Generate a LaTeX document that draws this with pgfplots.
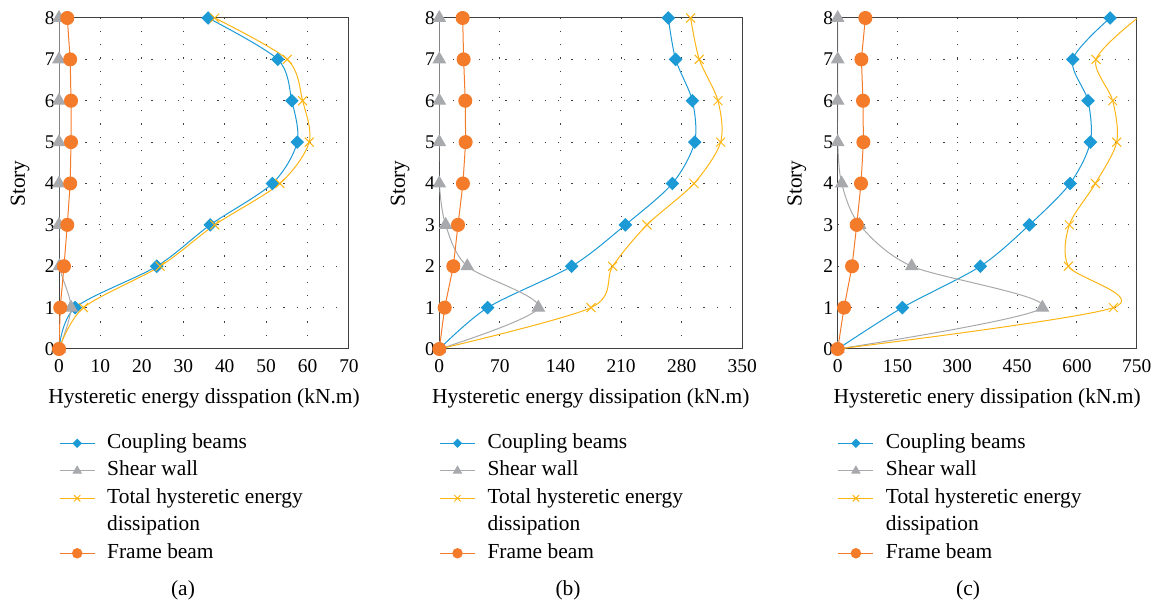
\documentclass[border=0pt]{standalone}
\usepackage{pgfplots}
\pgfplotsset{compat=1.18}
\usepackage{fontspec}
\setmainfont{Liberation Serif}
\definecolor{cblue}{HTML}{1B9AD6}
\definecolor{cgray}{HTML}{A7A9AC}
\definecolor{cyel}{HTML}{FDB515}
\definecolor{corg}{HTML}{F47B2A}
\pgfplotsset{
  hstyle/.style={
    scale only axis, height=331bp, ymin=0, ymax=8, ytick={0,...,8},
    axis line style={draw=black!75, line width=1bp},
    grid=major, grid style={black!75, dash pattern=on 1.2bp off 12bp, line width=1bp},
    major tick length=0pt,
    /pgf/number format/assume math mode=true,
    tick label style={font=\fontsize{19.5}{22}\selectfont},
    xticklabel style={yshift=-7bp},
    yticklabel style={xshift=-1bp},
    label style={font=\fontsize{21.5}{26}\selectfont},
    ylabel={Story},
    ylabel style={at={(axis description cs:#1,0.5)}, anchor=center, rotate=0},
    xlabel style={at={(axis description cs:0.5,-0.148)}, anchor=center},
    legend style={draw=none, fill=none, font=\fontsize{21.5}{26}\selectfont,
      cells={anchor=west}, row sep=3.5bp, column sep=10bp,
      nodes={text height=15bp, text depth=5bp, inner sep=2bp},
      at={(axis description cs:0,-0.248)}, anchor=north west, inner sep=0pt},
    legend cell align=left,
  },
  limg/.style={legend image code/.code={\draw[mark repeat=2,mark phase=2,#1] plot coordinates {(0bp,0bp) (17.5bp,0bp) (35bp,0bp)};}},
  sblue/.style={color=cblue, line width=1bp, smooth, mark=square*, mark size=4.3bp, mark options={rotate=45, fill=cblue, draw=cblue}},
  sgray/.style={color=cgray, line width=1bp, smooth, mark=triangle*, mark size=7bp, mark options={fill=cgray, draw=cgray}},
  syel/.style={color=cyel, line width=1bp, smooth, mark=x, mark size=6.3bp, mark options={draw=cyel, line width=1bp}},
  sorg/.style={color=corg, line width=1bp, mark=*, mark size=6.5bp, mark options={fill=corg, draw=corg}},
}
\newcommand{\mylegend}{%
  \addlegendimage{limg={cblue, line width=1bp, mark=square*, mark size=2.8bp, mark options={rotate=45, fill=cblue, draw=cblue}}}\addlegendentry{Coupling beams}
  \addlegendimage{limg={cgray, line width=1bp, mark=triangle*, mark size=4.5bp, mark options={fill=cgray, draw=cgray}}}\addlegendentry{Shear wall}
  \addlegendimage{limg={cyel, line width=1bp, mark=x, mark size=4.5bp, mark options={draw=cyel}}}\addlegendentry{Total hysteretic energy}
  \addlegendimage{legend image code/.code={}}\addlegendentry{dissipation}
  \addlegendimage{limg={corg, line width=1bp, mark=*, mark size=4.7bp, mark options={fill=corg, draw=corg}}}\addlegendentry{Frame beam}}
\begin{document}
\begin{tikzpicture}
\path[use as bounding box] (0,0) rectangle (1156bp,605bp);
% (a)
\begin{axis}[hstyle=-0.134, at={(59bp,256bp)}, anchor=south west, width=290bp,
  xmin=0, xmax=70, xtick={0,10,...,70},
  xlabel={Hysteretic energy disspation (kN.m)}]
\addplot[sblue, forget plot] coordinates {(0,0)(3.9,1)(23.6,2)(36.5,3)(51.5,4)(57.5,5)(56.2,6)(52.8,7)(36.0,8)};
\addplot[sgray, forget plot] coordinates {(0,0)(2.9,1)(0.1,2)(0,3)(0,4)(0,5)(0,6)(0,7)(0,8)};
\addplot[syel, forget plot] coordinates {(0,0)(5.9,1)(24.4,2)(37.6,3)(53.3,4)(60.4,5)(58.8,6)(55.1,7)(37.6,8)};
\addplot[sorg, forget plot] coordinates {(0,0)(0.3,1)(1.2,2)(2.0,3)(2.7,4)(2.9,5)(2.9,6)(2.7,7)(2.0,8)};
\mylegend
\end{axis}
% (b)
\begin{axis}[hstyle=-0.129, at={(439.3bp,256bp)}, anchor=south west, width=303bp,
  xmin=0, xmax=350, xtick={0,70,...,350},
  xlabel={Hysteretic energy dissipation (kN.m)}]
\addplot[sblue, forget plot] coordinates {(0,0)(55.8,1)(152.9,2)(214.9,3)(269.2,4)(295.0,5)(292.3,6)(273.0,7)(264.5,8)};
\addplot[sgray, forget plot] coordinates {(0,0)(114.4,1)(32.3,2)(7.3,3)(0,4)(0,5)(0,6)(0,7)(0,8)};
\addplot[syel, forget plot] coordinates {(0,0)(175.2,1)(200.2,2)(239.9,3)(294.2,4)(325.0,5)(321.9,6)(300.3,7)(290.3,8)};
\addplot[sorg, forget plot] coordinates {(0,0)(6.2,1)(16.2,2)(21.6,3)(27.3,4)(30.4,5)(30.0,6)(28.1,7)(27.0,8)};
\mylegend
\end{axis}
% (c)
\begin{axis}[hstyle=-0.137, at={(837.7bp,256bp)}, anchor=south west, width=299bp,
  xmin=0, xmax=750, xtick={0,150,...,750},
  xlabel={Hysteretic enery dissipation (kN.m)}]
\addplot[sblue, forget plot] coordinates {(0,0)(162.2,1)(357.9,2)(480.8,3)(582.8,4)(633.8,5)(627.9,6)(589.5,7)(683.1,8)};
\addplot[sgray, forget plot] coordinates {(0,0)(513.4,1)(185.6,2)(55,3)(10,4)(0,5)(0,6)(0,7)(0,8)};
\addplot[syel, forget plot, mark indices={1,2,3,4,5,6,7,8}] coordinates {(0,0)(691.5,1)(578.6,2)(581.1,3)(646.3,4)(699.8,5)(689.8,6)(648,7)(752,8)};
\addplot[sorg, forget plot] coordinates {(0,0)(15.9,1)(36,2)(47.7,3)(58.5,4)(64.4,5)(63.5,6)(59.4,7)(69.4,8)};
\mylegend
\end{axis}
\node[font=\fontsize{21.5}{26}\selectfont] at (183bp,15bp) {(a)};
\node[font=\fontsize{21.5}{26}\selectfont] at (568bp,15bp) {(b)};
\node[font=\fontsize{21.5}{26}\selectfont] at (968bp,15bp) {(c)};
\end{tikzpicture}
\end{document}
